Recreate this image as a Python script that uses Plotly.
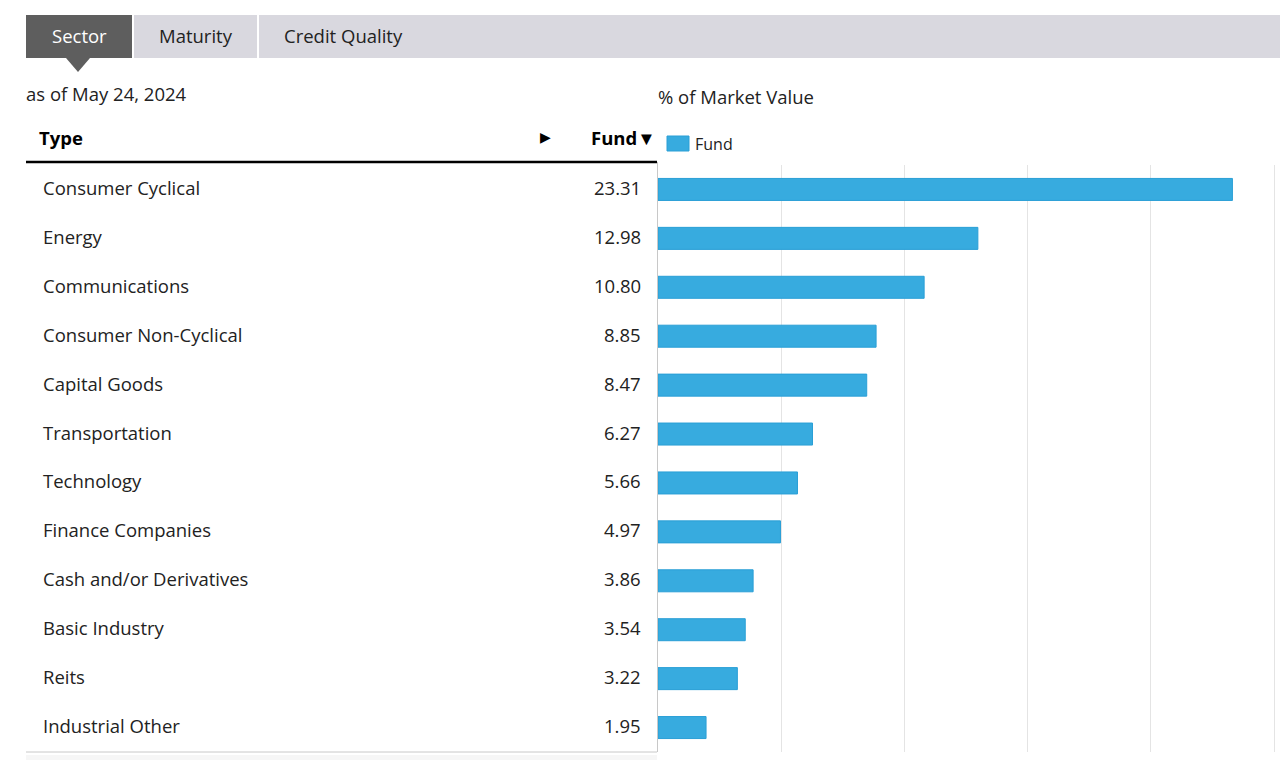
import plotly.graph_objects as go

categories = ["Consumer Cyclical", "Energy", "Communications", "Consumer Non-Cyclical",
              "Capital Goods", "Transportation", "Technology", "Finance Companies",
              "Cash and/or Derivatives", "Basic Industry", "Reits", "Industrial Other"]
fund_values = [23.31, 12.98, 10.80, 8.85, 8.47, 6.27, 5.66, 4.97, 3.86, 3.54, 3.22, 1.95]
tabs = ["Sector", "Maturity", "Credit Quality"]
as_of = "as of May 24, 2024"
axis_title = "% of Market Value"
series_name = "Fund"

W, H = 1280, 760
FONT = "Open Sans"
TXT = "#222222"
BAR = "#37abdf"
FS = 18.5


def px(x):
    return x / W


def py(y):
    return 1 - y / H


fig = go.Figure()
fig.add_trace(go.Bar(
    x=fund_values, y=categories, orientation="h", name=series_name,
    marker=dict(color=BAR, line=dict(color="#2a9fd6", width=1)),
    showlegend=False, hoverinfo="x+y",
))

shapes = []
annotations = []

# tab strip
shapes.append(dict(type="rect", xref="paper", yref="paper", x0=px(26), x1=px(1280), y0=py(58), y1=py(15),
                   fillcolor="#d9d8df", line=dict(width=0), layer="below"))
tab_edges = [(26, 133), (134, 258), (259, 1280)]
tab_text_x = [79, 196, 343]
for i, (t, (a, b)) in enumerate(zip(tabs, tab_edges)):
    if i == 0:
        shapes.append(dict(type="rect", xref="paper", yref="paper", x0=px(a), x1=px(b), y0=py(58), y1=py(15),
                           fillcolor="#5e5e5e", line=dict(width=0)))
        shapes.append(dict(type="path", xref="paper", yref="paper",
                           path=f"M {px(66)},{py(58)} L {px(90)},{py(58)} L {px(78)},{py(72)} Z",
                           fillcolor="#5e5e5e", line=dict(width=0)))
    else:
        shapes.append(dict(type="line", xref="paper", yref="paper", x0=px(a - 1), x1=px(a - 1), y0=py(58), y1=py(15),
                           line=dict(color="white", width=2)))
    annotations.append(dict(text=t, xref="paper", yref="paper", x=px(tab_text_x[i]), y=py(35.5),
                            xanchor="center", yanchor="middle", showarrow=False,
                            font=dict(family=FONT, size=FS, color="white" if i == 0 else TXT)))

annotations.append(dict(text=as_of, xref="paper", yref="paper", x=px(24), y=py(93.5),
                        xanchor="left", yanchor="middle", showarrow=False,
                        font=dict(family=FONT, size=FS, color=TXT)))
annotations.append(dict(text=axis_title, xref="paper", yref="paper", x=px(656), y=py(96.5),
                        xanchor="left", yanchor="middle", showarrow=False,
                        font=dict(family=FONT, size=FS, color=TXT)))

# table header
annotations.append(dict(text="<b>Type</b>", xref="paper", yref="paper", x=px(37), y=py(137),
                        xanchor="left", yanchor="middle", showarrow=False,
                        font=dict(family=FONT, size=FS, color="black")))
annotations.append(dict(text="▶", xref="paper", yref="paper", x=px(545), y=py(137),
                        xanchor="center", yanchor="middle", showarrow=False,
                        font=dict(family="DejaVu Sans", size=14, color="black")))
annotations.append(dict(text="<b>Fund▼</b>", xref="paper", yref="paper", x=px(658), y=py(137),
                        xanchor="right", yanchor="middle", showarrow=False,
                        font=dict(family=FONT, size=FS, color="black")))
shapes.append(dict(type="line", xref="paper", yref="paper", x0=px(26), x1=px(657), y0=py(162), y1=py(162),
                   line=dict(color="black", width=2.5)))
shapes.append(dict(type="line", xref="paper", yref="paper", x0=px(26), x1=px(657), y0=py(752), y1=py(752),
                   line=dict(color="#c8c8c8", width=1)))
shapes.append(dict(type="line", xref="paper", yref="paper", x0=px(657.5), x1=px(657.5), y0=py(162), y1=py(752),
                   line=dict(color="#c8c8c8", width=1)))
shapes.append(dict(type="rect", xref="paper", yref="paper", x0=px(26), x1=px(657), y0=py(760), y1=py(755),
                   fillcolor="#f6f6f6", line=dict(width=0)))

# rows
for c, v in zip(categories, fund_values):
    annotations.append(dict(text=c, xref="paper", yref="y", x=px(41), y=c,
                            xanchor="left", yanchor="middle", showarrow=False, yshift=2,
                            font=dict(family=FONT, size=FS, color=TXT)))
    annotations.append(dict(text=f"{v:.2f}", xref="paper", yref="y", x=px(643), y=c,
                            xanchor="right", yanchor="middle", showarrow=False, yshift=2,
                            font=dict(family=FONT, size=FS, color=TXT)))

# legend
shapes.append(dict(type="rect", xref="paper", yref="paper", x0=px(667), x1=px(689), y0=py(151), y1=py(136),
                   fillcolor=BAR, line=dict(color="#2a9fd6", width=1)))
annotations.append(dict(text=series_name, xref="paper", yref="paper", x=px(693), y=py(144),
                        xanchor="left", yanchor="middle", showarrow=False,
                        font=dict(family=FONT, size=16, color=TXT)))

fig.update_layout(
    width=W, height=H,
    margin=dict(l=0, r=0, t=0, b=0),
    paper_bgcolor="white", plot_bgcolor="white",
    bargap=0.55,
    xaxis=dict(domain=[px(658), px(1279)], range=[0, 25.2], tickvals=[0, 5, 10, 15, 20, 25],
               showticklabels=False, showgrid=True, gridcolor="#e4e4e4", gridwidth=1,
               zeroline=False, fixedrange=True),
    yaxis=dict(domain=[py(752), py(165)], categoryorder="array", categoryarray=categories,
               autorange="reversed", showticklabels=False, showgrid=False, zeroline=False,
               fixedrange=True),
    shapes=shapes, annotations=annotations,
    showlegend=False,
)

fig.write_html("out.html",
               config={"displayModeBar": False},
               post_script="document.body.style.margin='0';document.body.style.overflow='hidden';")
